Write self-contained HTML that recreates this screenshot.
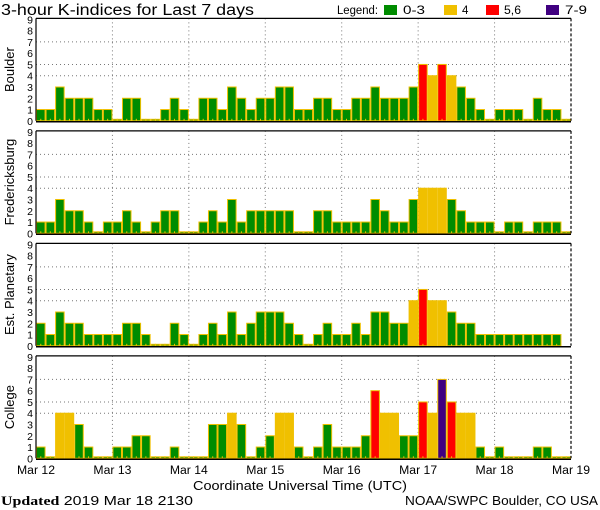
<!DOCTYPE html>
<html><head><meta charset="utf-8"><style>
body{margin:0;background:#fff;width:600px;height:510px;overflow:hidden}
svg{display:block;font-family:"Liberation Sans","DejaVu Sans",sans-serif}
</style></head><body>
<svg id="chart" width="600" height="510" viewBox="0 0 600 510">
<text x="1" y="15" font-size="15.5" textLength="253" lengthAdjust="spacingAndGlyphs">3-hour K-indices for Last 7 days</text>
<g font-size="11.5">
<text x="337" y="14" textLength="41" lengthAdjust="spacingAndGlyphs">Legend:</text>
<rect x="384" y="5" width="13" height="10" fill="#008c00"/><text x="403" y="14" textLength="22" lengthAdjust="spacingAndGlyphs">0-3</text>
<rect x="444" y="5" width="13" height="10" fill="#f0c000"/><text x="462" y="14">4</text>
<rect x="486" y="5" width="13" height="10" fill="#ff0000"/><text x="504" y="14" textLength="17" lengthAdjust="spacingAndGlyphs">5,6</text>
<rect x="546" y="5" width="13" height="10" fill="#400080"/><text x="565" y="14" textLength="22" lengthAdjust="spacingAndGlyphs">7-9</text>
</g>
<g id="panels"></g>
<text x="193" y="490" font-size="13" textLength="214" lengthAdjust="spacingAndGlyphs">Coordinate Universal Time (UTC)</text>
<text x="1" y="505" font-size="13" textLength="192" lengthAdjust="spacingAndGlyphs"><tspan font-family="Liberation Serif,serif" font-weight="bold">Updated</tspan> 2019 Mar 18 2130</text>
<text x="405" y="505" font-size="13" textLength="193" lengthAdjust="spacingAndGlyphs">NOAA/SWPC Boulder, CO USA</text>
</svg>
<script>
const stations = ["Boulder","Fredericksburg","Est. Planetary","College"];
const boulder = [1,1,3,2,2,2,1,1, 0,2,2,0,0,1,2,1, 0,2,2,1,3,2,1,2, 2,3,3,1,1,2,2,1, 1,2,2,3,2,2,2,3, 5,4,5,4,3,2,1,0, 1,1,1,0,2,1,1,0];
const fredericksburg = [1,1,3,2,2,1,0,1, 1,2,1,0,1,2,2,0, 0,1,2,1,3,1,2,2, 2,2,2,0,0,2,2,1, 1,1,1,3,2,1,1,3, 4,4,4,3,2,1,1,1, 0,1,1,0,1,1,1,0];
const planetary = [2,1,3,2,2,1,1,1, 1,2,2,1,0,0,2,1, 0,1,2,1,3,1,2,3, 3,3,2,1,0,1,2,1, 1,2,1,3,3,2,2,4, 5,4,4,3,2,2,1,1, 1,1,1,1,1,1,1,null];
const college = [1,0,4,4,3,1,0,0, 1,1,2,2,0,0,1,0, 0,0,3,3,4,3,0,1, 2,4,4,1,0,1,3,1, 1,1,2,6,4,4,2,2, 5,4,7,5,4,4,1,0, 1,0,0,0,1,1,0,0];
const series = [boulder, fredericksburg, planetary, college];
const dayLabels = ["Mar 12","Mar 13","Mar 14","Mar 15","Mar 16","Mar 17","Mar 18","Mar 19"];
const yTicks = [0,1,2,3,4,5,6,7,8,9];
const gridLevels = [4,5,7];

const NS="http://www.w3.org/2000/svg";
const X0=36, X1=571, N=56, unit=11.27;
const zeros=[120.8,233.3,345.8,458.3];
const xs = i => X0 + (X1-X0)*i/N;
const bw = (X1-X0)/N;
function color(v){return v<=3?"#008c00":v==4?"#f0c000":v<=6?"#ff0000":"#400080";}
function mk(tag,attrs,parent){const e=document.createElementNS(NS,tag);for(const k in attrs)e.setAttribute(k,attrs[k]);parent.appendChild(e);return e;}
const root=document.getElementById("panels");
series.forEach((data,p)=>{
  const z=zeros[p], top=z-9*unit-1;
  const ys = v => z - v*unit;
  const g=mk("g",{},root);
  
  
  gridLevels.forEach(l=>{
    const ln=mk("line",{x1:X0,x2:X1,y1:ys(l),y2:ys(l),stroke:"#777","stroke-dasharray":"1,3"},g);
    
    
  });
  for(let d=1;d<7;d++){
    const ln=mk("line",{x1:xs(d*8),x2:xs(d*8),y1:top,y2:z,stroke:"#777","stroke-dasharray":"1,3"},g);
    
    
  }
  data.forEach((v,i)=>{
    if(v===null)return;
    const h=Math.max(v*unit,1.5);
    const r=mk("rect",{x:xs(i)+0.5,y:z-h,width:bw-1,height:h,fill:color(v),stroke:"#f0c000","stroke-width":1},g);
    
    
    mk("rect",{x:xs(i)+bw/2-0.5,y:z-2,width:1,height:2,fill:"#f0c000"},g);
  });
  mk("line",{x1:X0,x2:X1,y1:top,y2:top,stroke:"#000","stroke-width":1.2},g);
  mk("line",{x1:X0,x2:X0,y1:top,y2:z,stroke:"#000","stroke-width":1.2},g);
  mk("line",{x1:X0,x2:X1,y1:z+1,y2:z+1,stroke:"#000","stroke-width":1.5},g);
  mk("line",{x1:X1,x2:X1,y1:top,y2:z,stroke:"#000","stroke-width":1.2,"stroke-dasharray":"3,2"},g);
  yTicks.forEach(t=>{
    const tx=mk("text",{x:33,y:ys(t)+4,"font-size":10.5,"text-anchor":"end"},g);
    tx.textContent=t;
    
    
  });
  const lab=mk("text",{x:0,y:0,"font-size":13,"text-anchor":"middle",transform:`translate(14,${(top+z)/2}) rotate(-90)`},g);
  lab.textContent=stations[p];
  
  
});
dayLabels.forEach((d,i)=>{
  const t=mk("text",{x:xs(i*8)-19,y:474,"font-size":11.5,textLength:38,lengthAdjust:"spacingAndGlyphs"},document.getElementById("chart"));
  t.textContent=d;
  
  
});
</script>
</body></html>
